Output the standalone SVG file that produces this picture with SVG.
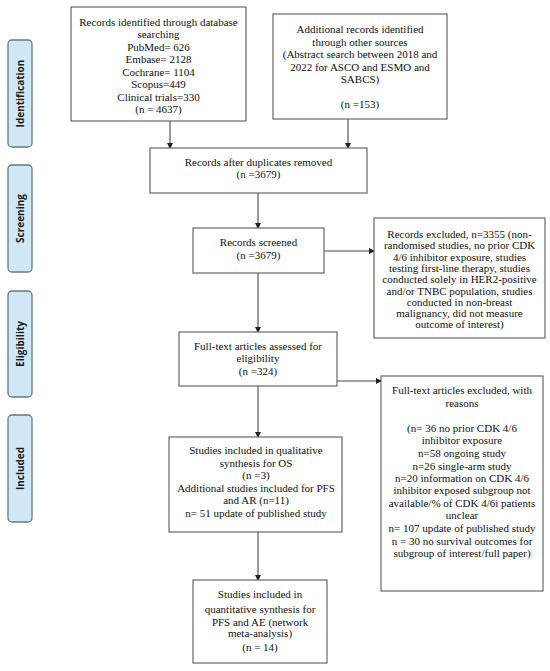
<svg xmlns="http://www.w3.org/2000/svg" width="550" height="671" viewBox="0 0 550 671">
<style>
.bg{fill:#ffffff}
.box{fill:#ffffff;stroke:#5a5a5a;stroke-width:1.1}
.side{fill:#cfe8f8;stroke:#6b7780;stroke-width:1.3}
.t{font-family:"Liberation Serif","Times New Roman",serif;font-size:11px;fill:#111;text-anchor:middle}
.s{font-family:"Open Sans","DejaVu Sans",sans-serif;font-size:10px;font-weight:bold;fill:#1a1a1a;text-anchor:middle}
.c{stroke:#4a4a4a;stroke-width:1.1;fill:none;marker-end:url(#ah)}
</style>
<defs>
<marker id="ah" markerWidth="6" markerHeight="6" refX="5" refY="3" orient="auto" markerUnits="userSpaceOnUse">
<path d="M0,0 L6,3 L0,6 Z" fill="#222"/>
</marker>
</defs>
<rect class="bg" x="0" y="0" width="550" height="671"/>

<g id="stage-identification"><rect class="side" x="8" y="40" width="24" height="107" rx="4"/><text class="s" transform="translate(23.5,93.5) rotate(-90)">Identification</text></g>
<g id="stage-screening"><rect class="side" x="8" y="165" width="24" height="107" rx="4"/><text class="s" transform="translate(23.5,218.5) rotate(-90)">Screening</text></g>
<g id="stage-eligibility"><rect class="side" x="8" y="291" width="24" height="106" rx="4"/><text class="s" transform="translate(23.5,344) rotate(-90)">Eligibility</text></g>
<g id="stage-included"><rect class="side" x="8" y="415" width="24" height="107" rx="4"/><text class="s" transform="translate(23.5,468.5) rotate(-90)">Included</text></g>

<g id="connectors">
<path class="c" d="M170,121 V148"/>
<path class="c" d="M348,119 V148"/>
<path class="c" d="M258,193 V228"/>
<path class="c" d="M324,251 H374"/>
<path class="c" d="M258,273 V332"/>
<path class="c" d="M337,381 H381"/>
<path class="c" d="M258,386 V437"/>
<path class="c" d="M258,532 V580"/>
</g>

<g id="db-search"><rect class="box" x="71" y="7" width="175" height="114"/>
<text class="t" x="158.5" y="25.5">Records identified through database</text>
<text class="t" x="158.5" y="38">searching</text>
<text class="t" x="158.5" y="50.5">PubMed= 626</text>
<text class="t" x="158.5" y="63">Embase= 2128</text>
<text class="t" x="158.5" y="75.5">Cochrane= 1104</text>
<text class="t" x="158.5" y="88">Scopus=449</text>
<text class="t" x="158.5" y="100.5">Clinical trials=330</text>
<text class="t" x="158.5" y="113">(n = 4637)</text></g>

<g id="other-sources"><rect class="box" x="273" y="14" width="174" height="105"/>
<text class="t" x="360" y="33">Additional records identified</text>
<text class="t" x="360" y="45.5">through other sources</text>
<text class="t" x="360" y="58">(Abstract search between 2018 and</text>
<text class="t" x="360" y="70.5">2022 for ASCO and ESMO and</text>
<text class="t" x="360" y="83">SABCS)</text>
<text class="t" x="360" y="108">(n =153)</text></g>

<g id="dedup"><rect class="box" x="150" y="148" width="217" height="45"/>
<text class="t" x="258.5" y="165.5">Records after duplicates removed</text>
<text class="t" x="258.5" y="178">(n =3679)</text></g>

<g id="screened"><rect class="box" x="193" y="228" width="131" height="45"/>
<text class="t" x="258.5" y="245.5">Records screened</text>
<text class="t" x="258.5" y="258.5">(n =3679)</text></g>

<g id="records-excluded"><rect class="box" x="374" y="218" width="171" height="120"/>
<text class="t" x="459.5" y="237.5">Records excluded, n=3355 (non-</text>
<text class="t" x="459.5" y="249">randomised studies, no prior CDK</text>
<text class="t" x="459.5" y="260.5">4/6 inhibitor exposure, studies</text>
<text class="t" x="459.5" y="271.5">testing first-line therapy, studies</text>
<text class="t" x="459.5" y="283">conducted solely in HER2-positive</text>
<text class="t" x="459.5" y="294.5">and/or TNBC population, studies</text>
<text class="t" x="459.5" y="306">conducted in non-breast</text>
<text class="t" x="459.5" y="317">malignancy, did not measure</text>
<text class="t" x="459.5" y="328">outcome of interest)</text></g>

<g id="fulltext"><rect class="box" x="179" y="332" width="158" height="54"/>
<text class="t" x="258" y="349.5">Full-text articles assessed for</text>
<text class="t" x="258" y="362">eligibility</text>
<text class="t" x="258" y="374.5">(n =324)</text></g>

<g id="fulltext-excluded"><rect class="box" x="381" y="376" width="162" height="215"/>
<text class="t" x="462" y="393.5">Full-text articles excluded, with</text>
<text class="t" x="462" y="406.5">reasons</text>
<text class="t" x="462" y="431.5">(n= 36 no prior CDK 4/6</text>
<text class="t" x="462" y="444">inhibitor exposure</text>
<text class="t" x="462" y="456.5">n=58 ongoing study</text>
<text class="t" x="462" y="469.5">n=26 single-arm study</text>
<text class="t" x="462" y="481.5">n=20 information on CDK 4/6</text>
<text class="t" x="462" y="494">inhibitor exposed subgroup not</text>
<text class="t" x="462" y="506.5">available/% of CDK 4/6i patients</text>
<text class="t" x="462" y="519">unclear</text>
<text class="t" x="462" y="531.5">n= 107 update of published study</text>
<text class="t" x="462" y="544.5">n = 30 no survival outcomes for</text>
<text class="t" x="462" y="556.5">subgroup of interest/full paper)</text></g>

<g id="qualitative"><rect class="box" x="169" y="437" width="173" height="95"/>
<text class="t" x="256" y="454">Studies included in qualitative</text>
<text class="t" x="256" y="466.5">synthesis for OS</text>
<text class="t" x="256" y="479">(n =3)</text>
<text class="t" x="256" y="491.5">Additional studies included for PFS</text>
<text class="t" x="256" y="504">and AR (n=11)</text>
<text class="t" x="256" y="516.5">n= 51 update of published study</text></g>

<g id="quantitative"><rect class="box" x="193" y="580" width="134" height="83"/>
<text class="t" x="260" y="598">Studies included in</text>
<text class="t" x="260" y="613">quantitative synthesis for</text>
<text class="t" x="260" y="625.5">PFS and AE (network</text>
<text class="t" x="260" y="637">meta-analysis)</text>
<text class="t" x="260" y="650.5">(n = 14)</text></g>
</svg>
